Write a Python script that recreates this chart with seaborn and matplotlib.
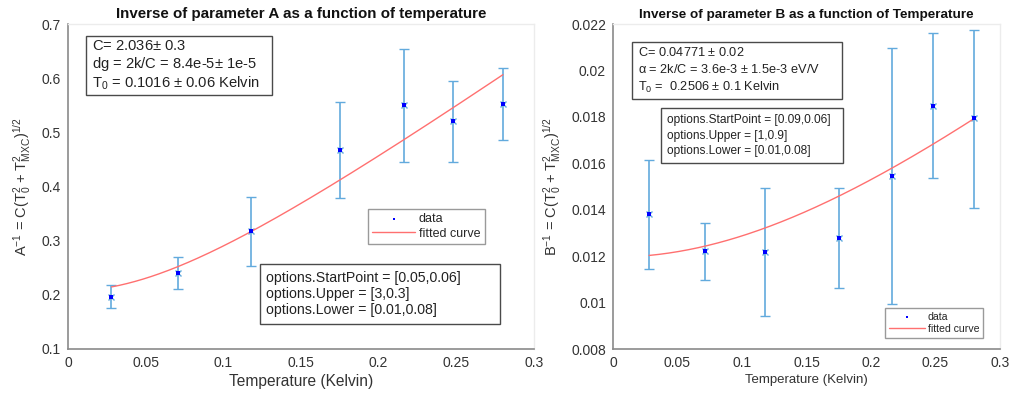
import numpy as np
import pandas as pd
import matplotlib
matplotlib.use("Agg")
import matplotlib.pyplot as plt
from matplotlib.patches import Rectangle
from matplotlib.ticker import FuncFormatter
import seaborn as sns

# ---------------- data ----------------
temperature = [0.028, 0.071, 0.118, 0.175, 0.216, 0.248, 0.280]

a_inv = [0.1965, 0.240, 0.318, 0.467, 0.550, 0.521, 0.552]
a_low = [0.1757, 0.211, 0.254, 0.378, 0.446, 0.446, 0.485]
a_high = [0.2175, 0.269, 0.380, 0.556, 0.654, 0.595, 0.619]

b_inv = [0.01380, 0.01221, 0.01219, 0.01277, 0.01547, 0.01848, 0.01794]
b_low = [0.01145, 0.01099, 0.00943, 0.01061, 0.00995, 0.01538, 0.01409]
b_high = [0.01614, 0.01343, 0.01495, 0.01495, 0.02095, 0.02161, 0.02176]

# fit parameters (from the annotation boxes)
C_A, T0_A = 2.036, 0.1016
C_B, T0_B = 0.04771, 0.2506

x_ticks = [0, 0.05, 0.1, 0.15, 0.2, 0.25, 0.3]
a_ticks = [0.1, 0.2, 0.3, 0.4, 0.5, 0.6, 0.7]
b_ticks = [0.008, 0.01, 0.012, 0.014, 0.016, 0.018, 0.02, 0.022]

titles = ["Inverse of parameter A as a function of temperature",
          "Inverse of parameter B as a function of Temperature"]
ylabels = [r"A$^{-1}$ = C(T$_0^2$ + T$_{MXC}^2$)$^{1/2}$",
           r"B$^{-1}$ = C(T$_0^2$ + T$_{MXC}^2$)$^{1/2}$"]
xlabel = "Temperature (Kelvin)"
info_a = ["C= 2.036$\\pm$ 0.3",
          "dg = 2k/C = 8.4e-5$\\pm$ 1e-5",
          "T$_0$ = 0.1016 $\\pm$ 0.06 Kelvin"]
opts_a = ["options.StartPoint = [0.05,0.06]",
          "options.Upper = [3,0.3]",
          "options.Lower = [0.01,0.08]"]
info_b = ["C= 0.04771 $\\pm$ 0.02",
          "$\\alpha$ = 2k/C = 3.6e-3 $\\pm$ 1.5e-3 eV/V",
          "T$_0$ =  0.2506 $\\pm$ 0.1 Kelvin"]
opts_b = ["options.StartPoint = [0.09,0.06]",
          "options.Upper = [1,0.9]",
          "options.Lower = [0.01,0.08]"]

# ---------------- style ----------------
sns.set_style("white")
plt.rcParams["font.family"] = ["Liberation Sans", "DejaVu Sans"]
plt.rcParams["mathtext.fontset"] = "custom"
plt.rcParams["mathtext.rm"] = "Liberation Sans"
plt.rcParams["mathtext.it"] = "Liberation Sans:italic"
plt.rcParams["mathtext.bf"] = "Liberation Sans:bold"
plt.rcParams["mathtext.default"] = "regular"

ERR_COLOR = "#62aadd"
DOT_COLOR = "#0000ff"
FIT_COLOR = "#ff7070"
AX_COLOR = "#8a8a8a"
TXT_COLOR = "#333333"

fig = plt.figure(figsize=(10.1, 3.94), dpi=100)
W, H = 1010, 394


def axes_px(l, r, t, b):
    return fig.add_axes([l / W, 1 - b / H, (r - l) / W, (b - t) / H])


axA = axes_px(68, 534, 24, 349)
axB = axes_px(613, 1000, 24, 349)

fmt = FuncFormatter(lambda v, p: "%g" % round(v, 6))


def draw(ax, y, lo, hi, C, T0, yticks, title, ylabel, info, opts,
         info_box, opts_box, leg_anchor, sizes, spacings):
    title_fs, xlab_fs, info_fs, opts_fs, leg_fs = sizes
    info_sp, opts_sp = spacings
    y = np.array(y)
    lo = np.array(lo)
    hi = np.array(hi)
    ax.errorbar(temperature, y, yerr=[y - lo, hi - y], fmt="x", color=ERR_COLOR,
                ecolor=ERR_COLOR, elinewidth=1.2, capsize=3.5, capthick=1.2,
                markersize=5, markeredgewidth=1.0, zorder=2)
    df = pd.DataFrame({"T": temperature, "v": y})
    sns.scatterplot(data=df, x="T", y="v", ax=ax, color=DOT_COLOR, s=6,
                    marker="s", linewidth=0, label="data", zorder=3)
    t = np.linspace(min(temperature), max(temperature), 200)
    fit = pd.DataFrame({"T": t, "v": C * np.sqrt(T0 ** 2 + t ** 2)})
    sns.lineplot(data=fit, x="T", y="v", ax=ax, color=FIT_COLOR, linewidth=1.0,
                 label="fitted curve", zorder=2.5)

    ax.set_xlim(0, 0.3)
    ax.set_ylim(yticks[0], yticks[-1])
    ax.set_xticks(x_ticks)
    ax.set_yticks(yticks)
    ax.xaxis.set_major_formatter(fmt)
    ax.yaxis.set_major_formatter(fmt)
    ax.tick_params(direction="in", length=4, width=0.8, color=AX_COLOR,
                   labelsize=10, labelcolor=TXT_COLOR, pad=5)
    for s in ["left", "bottom"]:
        ax.spines[s].set_color(AX_COLOR)
        ax.spines[s].set_linewidth(1.2)
    for s in ["top", "right"]:
        ax.spines[s].set_color("#ececec")
        ax.spines[s].set_linewidth(1.0)
    ax.set_title(title, fontsize=title_fs, fontweight="bold", color="#111111",
                 pad=4)
    ax.set_xlabel(xlabel, fontsize=xlab_fs, color=TXT_COLOR, labelpad=3)
    ax.set_ylabel(ylabel, fontsize=10.5, color=TXT_COLOR, labelpad=6)

    # annotation boxes given in figure pixels (l, r, t, b)
    for (l, r, tp, b), lines, fs, sp in [(info_box, info, info_fs, info_sp),
                                         (opts_box, opts, opts_fs, opts_sp)]:
        rect = Rectangle((l / W, 1 - b / H), (r - l) / W, (b - tp) / H,
                         transform=fig.transFigure, fill=True, facecolor="white",
                         edgecolor="#4a4a4a", linewidth=1.0, zorder=5)
        fig.add_artist(rect)
        fig.text((l + 6) / W, 1 - ((tp + b) / 2) / H, "\n".join(lines),
                 fontsize=fs, color="#222222", ha="left", va="center",
                 linespacing=sp / (fs * 100 / 72), zorder=6)

    leg = ax.legend(loc="upper left", bbox_to_anchor=leg_anchor, fontsize=leg_fs,
                    frameon=True, fancybox=False, framealpha=1,
                    edgecolor="#9a9a9a", handlelength=3.4, handletextpad=0.3,
                    borderpad=0.35, labelspacing=0.2, borderaxespad=0,
                    markerscale=0.8)
    leg.get_frame().set_linewidth(1.0)


draw(axA, a_inv, a_low, a_high, C_A, T0_A, a_ticks, titles[0], ylabels[0],
     info_a, opts_a, (86, 272, 36, 95), (260, 500, 264, 324), (0.644, 0.431),
     (10.9, 11.2, 10.6, 10.2, 9), (16.5, 16.7))
draw(axB, b_inv, b_low, b_high, C_B, T0_B, b_ticks, titles[1], ylabels[1],
     info_b, opts_b, (632, 842, 42, 99), (661, 843, 108, 163), (0.703, 0.126),
     (9.7, 9.5, 9.2, 8.6, 7.6), (17.5, 17.0))

fig.savefig("out.png", dpi=100)
